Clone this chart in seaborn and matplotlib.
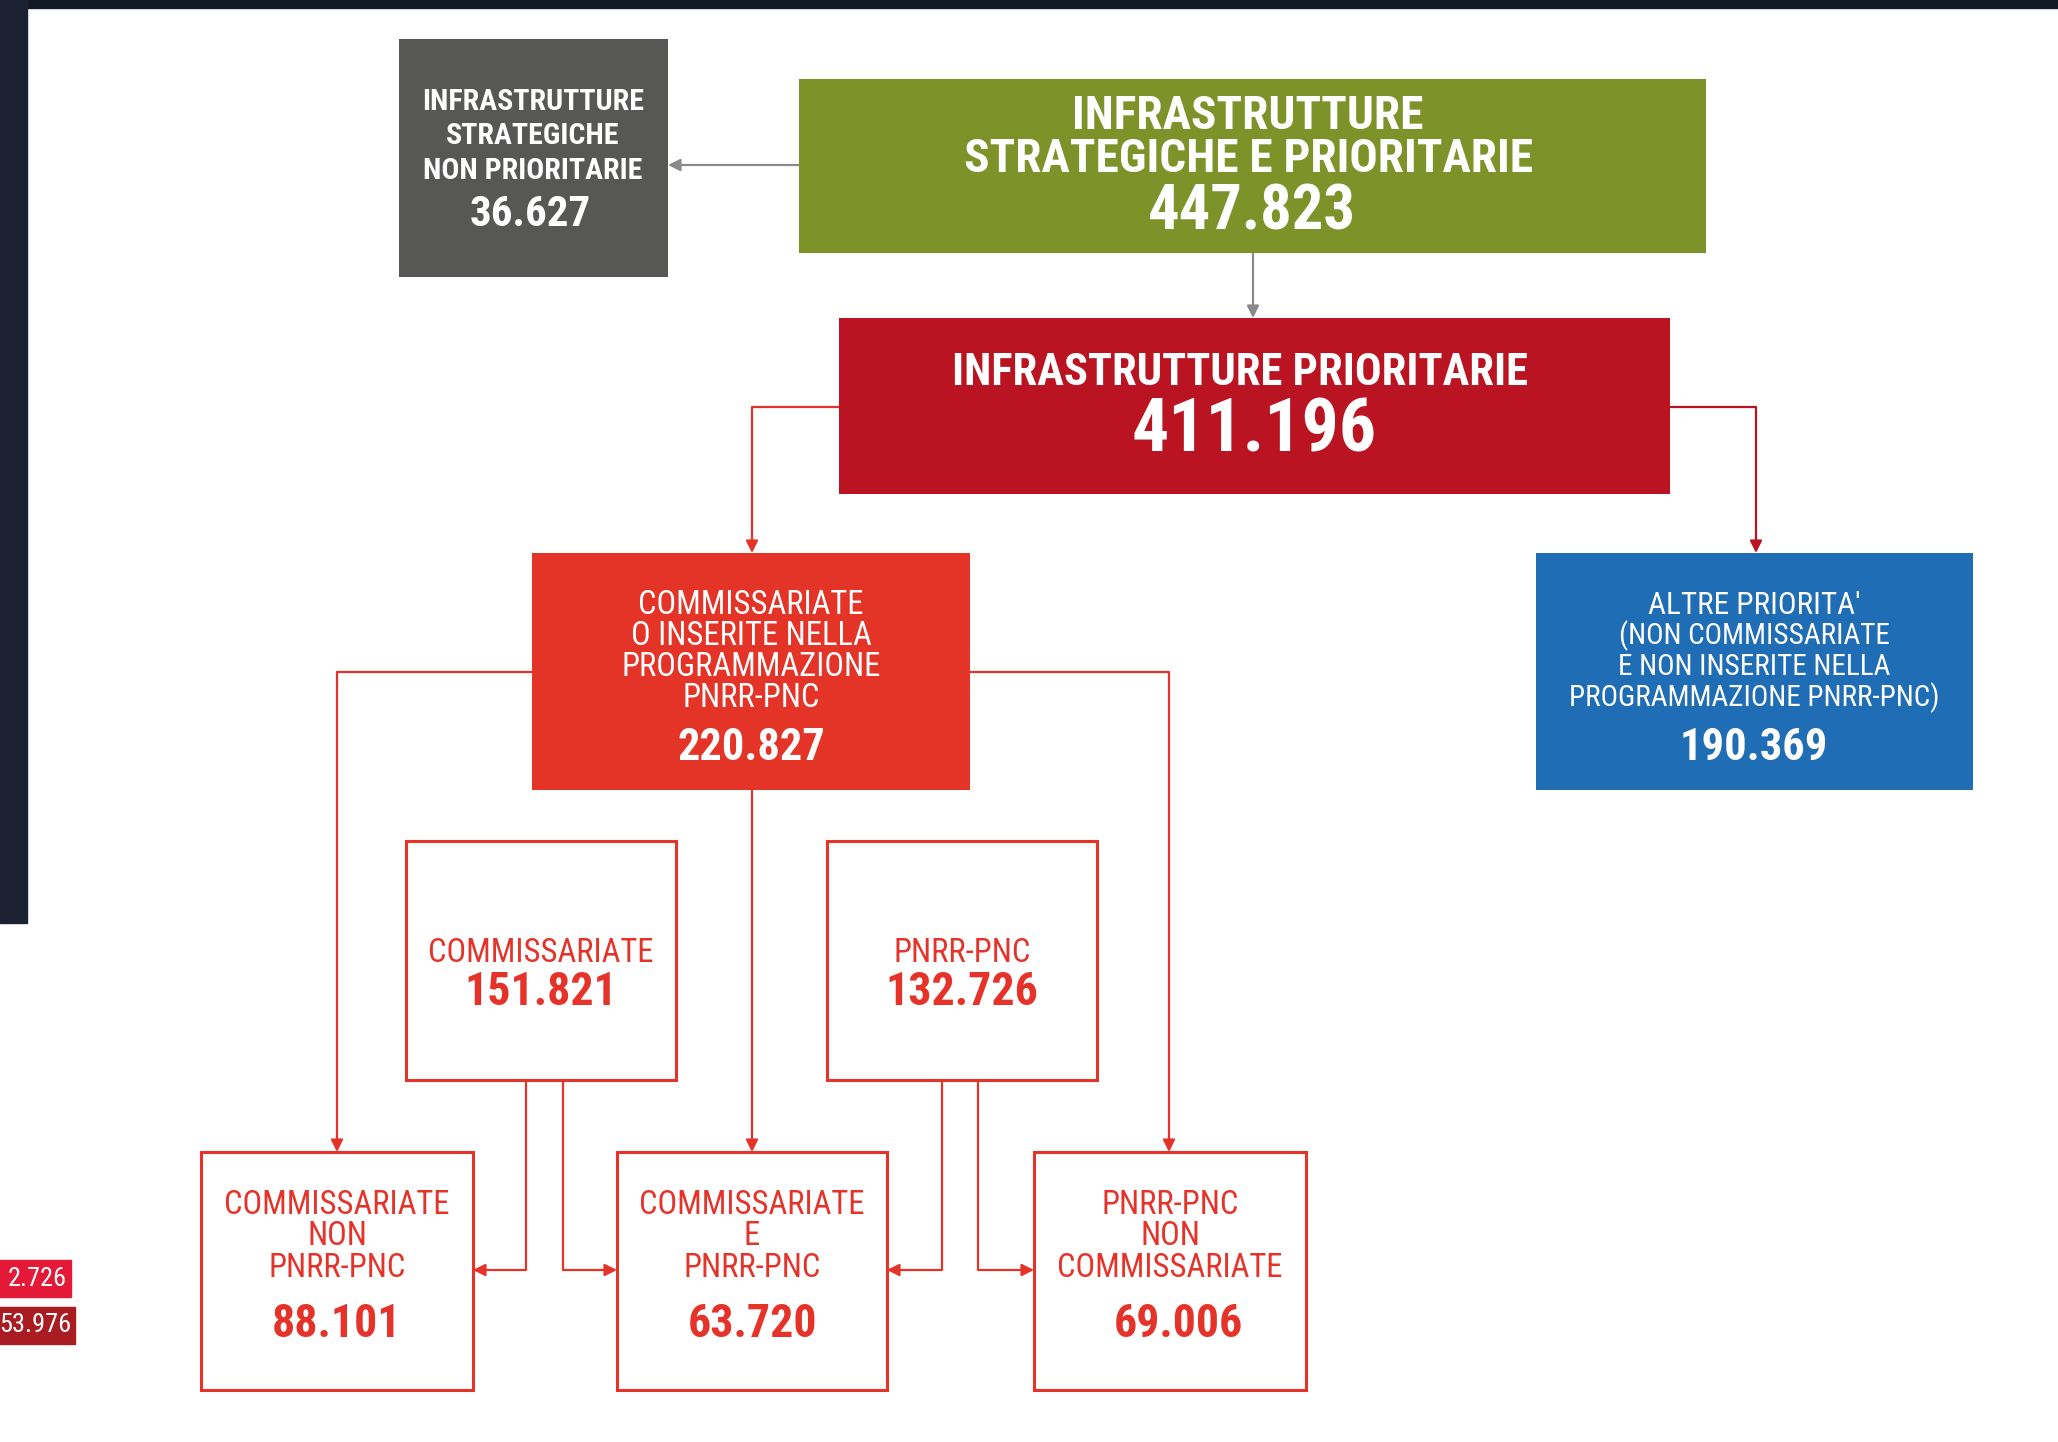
import matplotlib
matplotlib.use("Agg")
import matplotlib.pyplot as plt
from matplotlib.patches import Rectangle
from matplotlib import font_manager
import seaborn as sns

# ---------------- data ----------------
top_label = ["INFRASTRUTTURE", "STRATEGICHE E PRIORITARIE"]
top_value = 447823
nonprio_label = ["INFRASTRUTTURE", "STRATEGICHE", "NON PRIORITARIE"]
nonprio_value = 36627
prio_label = ["INFRASTRUTTURE PRIORITARIE"]
prio_value = 411196
comm_label = ["COMMISSARIATE", "O INSERITE NELLA", "PROGRAMMAZIONE", "PNRR-PNC"]
comm_value = 220827
altre_label = ["ALTRE PRIORITA'", "(NON COMMISSARIATE", "E NON INSERITE NELLA",
               "PROGRAMMAZIONE PNRR-PNC)"]
altre_value = 190369
mid_labels = ["COMMISSARIATE", "PNRR-PNC"]
mid_values = [151821, 132726]
bottom_labels = [["COMMISSARIATE", "NON", "PNRR-PNC"],
                 ["COMMISSARIATE", "E", "PNRR-PNC"],
                 ["PNRR-PNC", "NON", "COMMISSARIATE"]]
bottom_values = [88101, 63720, 69006]
side_labels = ["2.726", "53.976"]   # visible part of tags cut by the page edge


def fmt(v):
    return f"{v:,}".replace(",", ".")


# ---------------- style ----------------
sns.set_theme(style="white")
avail = {f.name for f in font_manager.fontManager.ttflist}
fam = "Roboto Condensed" if "Roboto Condensed" in avail else "Roboto"
plt.rcParams["font.family"] = [fam, "DejaVu Sans"]

W, H = 2058, 1442
fig = plt.figure(figsize=(W / 100, H / 100), dpi=100)
ax = fig.add_axes([0, 0, 1, 1])
ax.set_xlim(0, W)
ax.set_ylim(H, 0)
ax.axis("off")
fig.patch.set_facecolor("white")

C_GRAY = "#575756"
C_GREEN = "#7E922A"
C_DRED = "#BA1422"
C_ORANGE = "#E43427"
C_BLUE = "#1F6DB5"
C_LINE = "#E5332A"
C_ARROW_G = "#8A8A8A"

# dark frame
ax.add_patch(Rectangle((0, 0), W, 8, color="#141A25", zorder=0))
ax.add_patch(Rectangle((0, 0), 27, 923, color="#1B2130", zorder=0))


def box(x0, y0, x1, y1, fc=None, ec=None, lw=0):
    if fc is not None:
        ax.add_patch(Rectangle((x0, y0), x1 - x0, y1 - y0, facecolor=fc,
                               edgecolor="none", zorder=2))
    else:
        ax.add_patch(Rectangle((x0, y0), x1 - x0, y1 - y0, facecolor="white",
                               edgecolor=ec, lw=lw, zorder=2))


def txt(x, y, s, size, color="white", weight="normal"):
    ax.text(x, y, s, ha="center", va="center", fontsize=size, color=color,
            fontweight=weight, zorder=3)


def connector(pts, color, lw=1.6, ms=18):
    xs = [p[0] for p in pts]
    ys = [p[1] for p in pts]
    ax.plot(xs[:-1], ys[:-1], color=color, lw=lw, solid_capstyle="butt",
            solid_joinstyle="miter", zorder=1)
    ax.annotate("", xy=pts[-1], xytext=pts[-2],
                arrowprops=dict(arrowstyle="-|>", color=color, lw=lw,
                                mutation_scale=ms, shrinkA=0, shrinkB=0),
                zorder=1)


# ---------------- connectors ----------------
connector([(799, 165), (668, 165)], C_ARROW_G, lw=1.6)
connector([(1253, 253), (1253, 318)], C_ARROW_G, lw=1.6)
connector([(839, 407), (752, 407), (752, 553)], C_LINE)
connector([(1670, 407), (1756, 407), (1756, 553)], C_DRED)
connector([(532, 672), (337, 672), (337, 1152)], C_LINE)
connector([(752, 790), (752, 1152)], C_LINE)
connector([(970, 672), (1169, 672), (1169, 1152)], C_LINE)
connector([(526, 1080), (526, 1270), (473, 1270)], C_LINE)
connector([(563, 1080), (563, 1270), (617, 1270)], C_LINE)
connector([(942, 1080), (942, 1270), (887, 1270)], C_LINE)
connector([(978, 1080), (978, 1270), (1034, 1270)], C_LINE)

# ---------------- filled boxes ----------------
box(399, 39, 668, 277, fc=C_GRAY)
for s, y in zip(nonprio_label, [102, 136, 171]):
    txt(533, y, s, 21.5, weight="bold")
txt(530, 214, fmt(nonprio_value), 31, weight="bold")

box(799, 79, 1706, 253, fc=C_GREEN)
for s, y, fs in zip(top_label, [116, 159], [34, 34]):
    txt(1248, y, s, fs, weight="bold")
txt(1252, 212, fmt(top_value), 45, weight="bold")

box(839, 318, 1670, 494, fc=C_DRED)
txt(1240, 373, prio_label[0], 32, weight="bold")
txt(1254, 432, fmt(prio_value), 53, weight="bold")

box(532, 553, 970, 790, fc=C_ORANGE)
for s, y in zip(comm_label, [605, 636, 667, 698]):
    txt(751, y, s, 23.5)
txt(751, 748, fmt(comm_value), 32, weight="bold")

box(1536, 553, 1973, 790, fc=C_BLUE)
for s, y, fs in zip(altre_label, [605, 636, 667, 698], [22.5, 21, 21, 21]):
    txt(1754, y, s, fs)
txt(1754, 748, fmt(altre_value), 32, weight="bold")

# ---------------- outlined boxes ----------------
for (x0, x1), lab, val in zip([(406, 676), (827, 1097)], mid_labels, mid_values):
    box(x0, 841, x1, 1080, ec=C_LINE, lw=2.2)
    cx = (x0 + x1) / 2
    txt(cx, 953, lab, 23.5, color=C_LINE)
    txt(cx, 992, fmt(val), 33, color=C_LINE, weight="bold")

for (x0, x1), labs, val in zip([(201, 473), (617, 887), (1034, 1306)],
                               bottom_labels, bottom_values):
    box(x0, 1152, x1, 1390, ec=C_LINE, lw=2.2)
    cx = (x0 + x1) / 2
    for s, y in zip(labs, [1205, 1236, 1268]):
        txt(cx, y, s, 23.5, color=C_LINE)
    txt(cx + (8 if val == 69006 else 0), 1324, fmt(val), 33, color=C_LINE,
        weight="bold")

# ---------------- partially visible side tags ----------------
for (y0, y1, x1, col), s in zip([(1260, 1297, 71, "#E31937"),
                                 (1307, 1344, 75, "#A81C22")], side_labels):
    ax.add_patch(Rectangle((-10, y0), x1 + 10, y1 - y0, color=col, zorder=2))
    ax.text(x1 - 4, (y0 + y1) / 2, s, ha="right", va="center",
            fontsize=19, color="white", zorder=3)

fig.savefig("out.png", dpi=100, facecolor="white")
